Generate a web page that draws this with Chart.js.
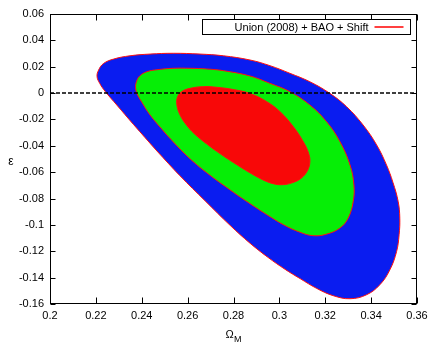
<!DOCTYPE html>
<html><head><meta charset="utf-8">
<script src="https://cdn.jsdelivr.net/npm/chart.js@4.4.1/dist/chart.umd.min.js"></script>
<style>html,body{margin:0;padding:0;background:#fff;}#c{display:block;}</style>
</head><body>
<canvas id="c" width="436" height="354"></canvas>
<script>
const seriesLabel = "Union (2008) + BAO + Shift";
const xTicks = [0.2, 0.22, 0.24, 0.26, 0.28, 0.3, 0.32, 0.34, 0.36];
const xTickLabels = ["0.2", "0.22", "0.24", "0.26", "0.28", "0.3", "0.32", "0.34", "0.36"];
const yTicks = [0.06, 0.04, 0.02, 0, -0.02, -0.04, -0.06, -0.08, -0.1, -0.12, -0.14, -0.16];
const yTickLabels = ["0.06", "0.04", "0.02", "0", "-0.02", "-0.04", "-0.06", "-0.08", "-0.1", "-0.12", "-0.14", "-0.16"];

// 3-sigma contour (blue)
const blueX = [0.2466, 0.2364, 0.2291, 0.2240, 0.2217, 0.2205, 0.2212, 0.2233, 0.2277, 0.2349, 0.2436, 0.2538, 0.2654, 0.2756, 0.2872, 0.2959, 0.3046, 0.3133, 0.3220, 0.3293, 0.3365, 0.3424, 0.3467, 0.3495, 0.3518, 0.3525, 0.3522, 0.3511, 0.3482, 0.3438, 0.3380, 0.3308, 0.3235, 0.3163, 0.3090, 0.3024, 0.2950, 0.2872, 0.2785, 0.2676, 0.2567, 0.2466];
const blueY = [-0.0439, -0.0238, -0.0090, 0.0014, 0.0073, 0.0126, 0.0175, 0.0224, 0.0258, 0.0283, 0.0296, 0.0302, 0.0296, 0.0283, 0.0251, 0.0208, 0.0150, 0.0086, -0.0002, -0.0103, -0.0242, -0.0393, -0.0545, -0.0677, -0.0823, -0.0949, -0.1075, -0.1202, -0.1340, -0.1454, -0.1530, -0.1560, -0.1537, -0.1482, -0.1407, -0.1336, -0.1246, -0.1139, -0.1003, -0.0817, -0.0628, -0.0439];
// 2-sigma contour (green)
const greenX = [0.2509, 0.2436, 0.2397, 0.2380, 0.2373, 0.2377, 0.2391, 0.2422, 0.2466, 0.2538, 0.2611, 0.2683, 0.2756, 0.2872, 0.2959, 0.3046, 0.3133, 0.3206, 0.3264, 0.3308, 0.3325, 0.3322, 0.3300, 0.3264, 0.3206, 0.3148, 0.3090, 0.3017, 0.2945, 0.2872, 0.2799, 0.2683, 0.2596, 0.2509];
const greenY = [-0.0317, -0.0166, -0.0060, -0.0007, 0.0039, 0.0088, 0.0130, 0.0162, 0.0177, 0.0188, 0.0188, 0.0183, 0.0170, 0.0130, 0.0074, 0.0011, -0.0090, -0.0217, -0.0368, -0.0545, -0.0696, -0.0823, -0.0949, -0.1024, -0.1070, -0.1082, -0.1056, -0.0998, -0.0922, -0.0839, -0.0752, -0.0604, -0.0475, -0.0317];
// 1-sigma contour (red)
const redX = [0.2672, 0.2628, 0.2593, 0.2567, 0.2554, 0.2555, 0.2575, 0.2611, 0.2669, 0.2727, 0.2799, 0.2872, 0.2945, 0.3003, 0.3061, 0.3104, 0.3127, 0.3133, 0.3122, 0.3094, 0.3055, 0.3011, 0.2968, 0.2920, 0.2872, 0.2799, 0.2727, 0.2672];
const redY = [-0.0371, -0.0306, -0.0238, -0.0166, -0.0098, -0.0033, 0.0012, 0.0036, 0.0049, 0.0044, 0.0027, -0.0003, -0.0065, -0.0141, -0.0255, -0.0368, -0.0454, -0.0522, -0.0590, -0.0647, -0.0681, -0.0695, -0.0685, -0.0651, -0.0605, -0.0526, -0.0442, -0.0371];
// epsilon = 0 reference line
const zeroLineX = [0.2, 0.36];
const zeroLineY = [0, 0];

const pts = (xs, ys) => xs.map((x, i) => ({x, y: ys[i]}));
const FONT = '"Liberation Sans", Arial, Helvetica, sans-serif';

const framePlugin = {
  id: 'frame',
  afterDraw(chart) {
    const {ctx, chartArea: a, scales: {x, y}} = chart;
    ctx.save();
    ctx.strokeStyle = '#000';
    ctx.lineWidth = 1;
    const L = Math.round(a.left) + 0.5, R = Math.round(a.right) - 0.5;
    const T = Math.round(a.top) + 0.5, B = Math.round(a.bottom) - 0.5;
    ctx.strokeRect(L, T, R - L, B - T);
    ctx.beginPath();
    xTicks.forEach(v => {
      const px = Math.round(x.getPixelForValue(v)) + 0.5;
      ctx.moveTo(px, B); ctx.lineTo(px, B - 6);
      ctx.moveTo(px, T); ctx.lineTo(px, T + 6);
    });
    yTicks.forEach(v => {
      const py = Math.round(y.getPixelForValue(v)) + 0.5;
      ctx.moveTo(L, py); ctx.lineTo(L + 5, py);
      ctx.moveTo(R, py); ctx.lineTo(R - 5, py);
    });
    ctx.stroke();

    // legend
    const bx = Math.round(a.right) - 214.5, by = T + 5, bw = 208, bh = 15;
    ctx.fillStyle = '#fff';
    ctx.fillRect(bx, by, bw, bh);
    ctx.strokeStyle = '#000';
    ctx.strokeRect(bx, by, bw, bh);
    ctx.fillStyle = '#000';
    ctx.font = '11px ' + FONT;
    ctx.textAlign = 'right';
    ctx.textBaseline = 'middle';
    ctx.fillText(seriesLabel, bx + 166, by + bh / 2 + 0.5);
    ctx.strokeStyle = '#ff0000';
    ctx.lineWidth = 1.5;
    ctx.beginPath();
    ctx.moveTo(bx + 172, by + bh / 2); ctx.lineTo(bx + 201, by + bh / 2);
    ctx.stroke();

    // axis titles
    ctx.fillStyle = '#000';
    ctx.textAlign = 'center';
    ctx.textBaseline = 'alphabetic';
    ctx.font = '12px ' + FONT;
    ctx.fillText('ε', 11, 165);
    ctx.font = '11px ' + FONT;
    ctx.textAlign = 'left';
    ctx.fillText('Ω', 225.5, 338);
    ctx.font = '9px ' + FONT;
    ctx.fillText('M', 234, 342);
    ctx.restore();
  }
};

const ds = (label, data, color, order) => ({
  label, data, order,
  showLine: true,
  fill: 'shape',
  backgroundColor: color,
  borderColor: '#ff1010',
  borderWidth: 1,
  pointRadius: 0,
  tension: 0.4
});

new Chart(document.getElementById('c'), {
  type: 'scatter',
  data: {
    datasets: [
      {label: 'epsilon = 0', data: pts(zeroLineX, zeroLineY), order: -1, showLine: true, fill: false,
       borderColor: '#000', borderWidth: 1.5, borderDash: [4, 2], pointRadius: 0},
      ds(seriesLabel + ' 1σ', pts(redX, redY), '#f80808', 0),
      ds(seriesLabel + ' 2σ', pts(greenX, greenY), '#06ee06', 1),
      ds(seriesLabel + ' 3σ', pts(blueX, blueY), '#0a1cf0', 2)
    ]
  },
  options: {
    responsive: false,
    animation: false,
    layout: {padding: {top: 14, right: 19, left: 0, bottom: 0}},
    plugins: {legend: {display: false}, tooltip: {enabled: false}},
    scales: {
      x: {
        type: 'linear', min: 0.2, max: 0.36,
        afterBuildTicks: s => { s.ticks = xTicks.map(v => ({value: v})); },
        afterFit: s => { s.height = 50; },
        grid: {display: false, drawTicks: false},
        border: {display: false},
        ticks: {callback: (v, i) => xTickLabels[i], color: '#000', padding: 5, maxRotation: 0, autoSkip: false,
                font: {family: FONT, size: 11}}
      },
      y: {
        type: 'linear', min: -0.16, max: 0.06,
        afterBuildTicks: s => { s.ticks = yTicks.map(v => ({value: v})); },
        afterFit: s => { s.width = 50; },
        grid: {display: false, drawTicks: false},
        border: {display: false},
        ticks: {callback: (v, i) => yTickLabels[i], color: '#000', padding: 6, autoSkip: false,
                font: {family: FONT, size: 11}}
      }
    }
  },
  plugins: [framePlugin]
});
</script>
</body></html>
